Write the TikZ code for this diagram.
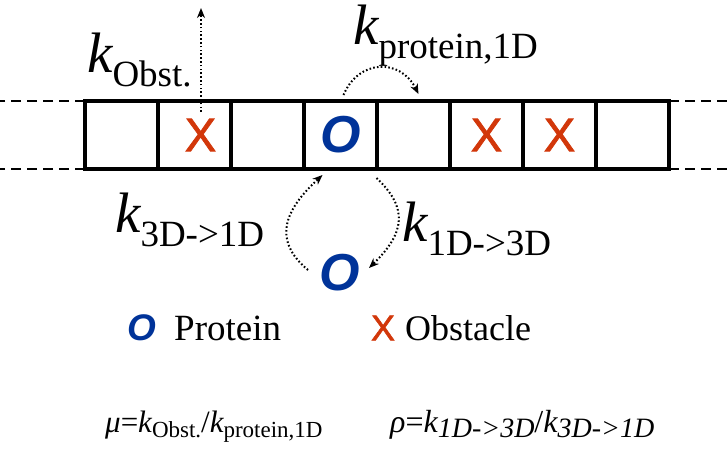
\documentclass[tikz,border=0pt]{standalone}
\usepackage{fontspec}
\setmainfont{Liberation Serif}
\newfontfamily\markfont{Liberation Sans}
\newfontfamily\crossfont[FakeBold=1.6]{Liberation Sans}
\usetikzlibrary{arrows.meta, positioning}

\definecolor{protblue}{RGB}{0,51,153}
\definecolor{obstred}{RGB}{210,55,10}

% rate constants, large and small
\newcommand{\bigk}[1]{{\fontsize{57}{57}\selectfont\itshape k}\raisebox{-14pt}{\fontsize{37}{37}\selectfont #1}}
\newcommand{\smallk}[2]{{\itshape k}\raisebox{-5pt}{\fontsize{#1}{#1}\selectfont #2}}

\tikzset{
  cell/.style={draw, line width=3.5pt, minimum width=73pt, minimum height=68pt,
    inner sep=0pt, outer sep=0pt},
  prot/.style={text=protblue, inner sep=0pt,
    font=\markfont\bfseries\itshape\fontsize{52}{52}\selectfont},
  obst/.style={text=obstred, inner sep=0pt,
    font=\crossfont\fontsize{47}{47}\selectfont},
  rail/.style={line width=2pt, dash pattern=on 10pt off 6pt},
  hop/.style={line width=2pt, dash pattern=on 1.6pt off 2.2pt,
    -{Stealth[length=10pt, width=8pt]}},
  ratelabel/.style={anchor=base west, inner sep=0pt},
  legend/.style={anchor=base west, inner sep=0pt, font=\fontsize{37}{37}\selectfont},
  formula/.style={anchor=base west, inner sep=0pt}
}

\begin{document}
\begin{tikzpicture}[x=1pt, y=-1pt]

      \useasboundingbox (0,0) rectangle (727,451);

      % Lattice of binding sites
      \foreach \i in {1,...,8}
      \node[cell] (c\i) at ({85+73*(\i-0.5)},135) {};

      % Track continues on both sides
      \coordinate (tl) at (0,101);
      \coordinate (bl) at (0,169);
      \coordinate (tr) at (727,101);
      \coordinate (br) at (727,169);
      \draw[rail] (c1.north west) -- (tl);
      \draw[rail] (c1.south west) -- (bl);
      \draw[rail] (c8.north east) -- (tr);
      \draw[rail] (c8.south east) -- (br);

      % Obstacles and bound protein
      \node[obst] (x2) at ([xshift=6pt]c2.center) {X};
      \node[obst] (x6) at (c6) {X};
      \node[obst] (x7) at (c7) {X};
      \node[prot] (o4) at (c4) {O};

      % Free protein in solution
      \node[prot] (ofree) at (340,273) {O};

      % Obstacle leaves the track
      \coordinate (escfoot) at (201,112);
      \coordinate (esctip) at (201,8);
      \draw[hop] (escfoot) -- (esctip);
      \node[ratelabel] (kobst) at (87,72) {\bigk{Obst.}};

      % Sliding to the next site
      \draw[hop] ([shift={(3pt,6pt)}]c4.north) .. controls +(15,-36) and +(-18,-36) ..
        ([shift={(5pt,7pt)}]c5.north);
      \node[ratelabel] (kslide) at (353,44) {\bigk{protein,1D}};

      % Binding and unbinding
      \draw[hop] ([shift={(-32pt,3pt)}]ofree.center) .. controls +(-36,-30) and +(-38,35) ..
        ([shift={(-18pt,-6pt)}]c4.south);
      \draw[hop] ([shift={(36pt,-9pt)}]c4.south) .. controls +(32,30) and +(36,-35) ..
        ([shift={(29pt,5pt)}]ofree.center);
      \node[ratelabel] (kon) at (115,232) {\bigk{3D->1D}};
      \node[ratelabel] (koff) at (402,241) {\bigk{1D->3D}};

      % Legend
      \node[prot, font=\markfont\bfseries\itshape\fontsize{37}{37}\selectfont]
        (lo) at (142,328) {O};
      \node[legend] (lprot) at (174,340) {Protein};
      \node[obst, font=\crossfont\fontsize{36}{36}\selectfont]
        (lx) at (383,328) {X};
      \node[legend, font=\fontsize{36}{36}\selectfont] (lobst) at (405,340) {Obstacle};

      % Dimensionless ratios
      \node[formula, font=\fontsize{31}{31}\selectfont] (mu) at (105,432)
        {\textit{μ}=\smallk{23}{Obst.}/\smallk{23}{protein,1D}};
      \node[formula, font=\fontsize{32}{32}\selectfont] (rho) at (390,432)
        {\textit{ρ}=\smallk{28}{\textit{1D->3D}}/\smallk{28}{\textit{3D->1D}}};

\end{tikzpicture}
\end{document}
